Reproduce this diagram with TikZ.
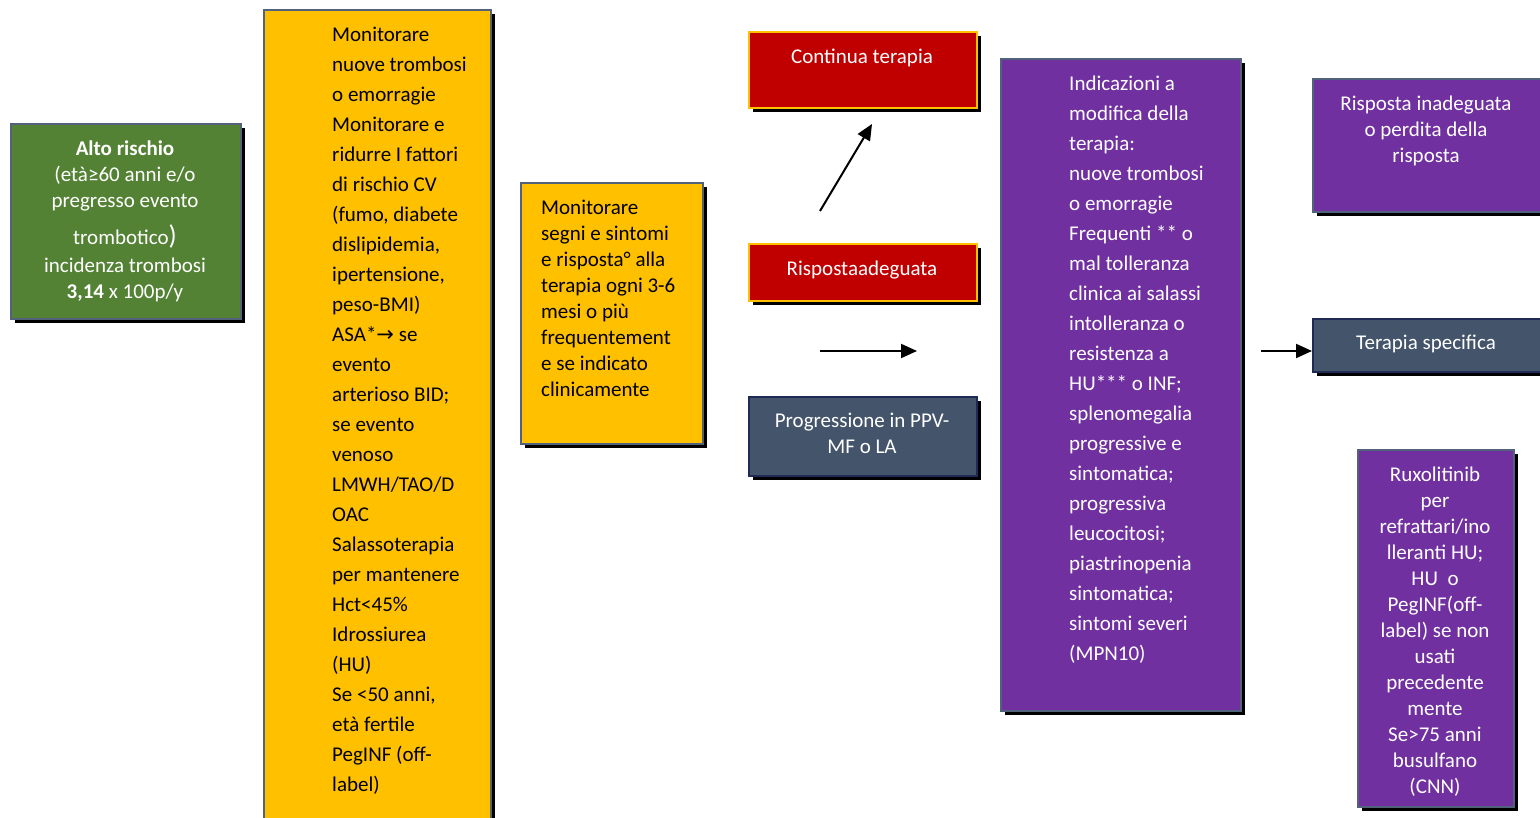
\documentclass[tikz,border=0pt]{standalone}
\usepackage{fontspec}
\setmainfont{Carlito}
\newfontfamily\symfont{DejaVu Sans}
\usetikzlibrary{shadows,arrows.meta}

\definecolor{frame}{HTML}{52627A}
\definecolor{navyframe}{HTML}{1F2A55}
\definecolor{riskgreen}{HTML}{548235}
\definecolor{amber}{HTML}{FFC000}
\definecolor{darkred}{HTML}{C00000}
\definecolor{slate}{HTML}{44546A}
\definecolor{violet}{HTML}{7030A0}

\begin{document}
\begin{tikzpicture}[x=1pt,y=-1pt,
  box/.style={rectangle, draw=frame, line width=2pt, anchor=north west, inner sep=0pt,
    general shadow={fill=black, shadow xshift=4pt, shadow yshift=-4pt}},
  greenbox/.style={box, fill=riskgreen},
  yellowbox/.style={box, fill=amber},
  redbox/.style={box, fill=darkred, draw=amber},
  slatebox/.style={box, fill=slate, draw=navyframe},
  purplebox/.style={box, fill=violet},
  txt/.style={inner sep=0pt, font=\fontsize{21}{26}\selectfont},
  tall/.style={txt, font=\fontsize{21}{30}\selectfont},
  arr/.style={line width=2pt, -{Triangle[length=16pt,width=14pt]}},
]
\useasboundingbox (0,0) rectangle (1540,818);
\fill[white] (0,0) rectangle (1540,818);

% ---- boxes ----
\node[greenbox, minimum width=230pt, minimum height=195pt] (alto) at (10,123) {};
\node[yellowbox, minimum width=227pt, minimum height=830pt] (monit) at (263,9) {};
\node[yellowbox, minimum width=182pt, minimum height=261pt] (segni) at (520,182) {};
\node[redbox, minimum width=228pt, minimum height=76pt] (cont) at (748,31) {};
\node[redbox, minimum width=228pt, minimum height=57pt] (adeg) at (748,243) {};
\node[slatebox, minimum width=228pt, minimum height=79pt] (progr) at (748,396) {};
\node[purplebox, minimum width=240pt, minimum height=652pt] (indic) at (1000,58) {};
\node[purplebox, minimum width=240pt, minimum height=133pt] (inad) at (1312,78) {};
\node[slatebox, minimum width=240pt, minimum height=53pt] (ts) at (1312,318) {};
\node[purplebox, minimum width=156pt, minimum height=357pt] (rux) at (1357,449) {};

% ---- texts ----
\node[txt, text=white, anchor=north, align=center] (alto-t) at (125,137)
  {\rule{0pt}{18pt}\textbf{Alto rischio}\\
   (età≥60 anni e/o\\
   pregresso evento\\[11pt]
   trombotico{\fontsize{27}{27}\selectfont\smash{)}}\\[2pt]
   incidenza trombosi\\
   \textbf{3,14} x 100p/y};

\node[tall, anchor=north west, align=left] (monit-t) at (332,23)
  {\rule{0pt}{18pt}Monitorare\\
   nuove trombosi\\
   o emorragie\\
   Monitorare e\\
   ridurre I fattori\\
   di rischio CV\\
   (fumo, diabete\\
   dislipidemia,\\
   ipertensione,\\
   peso-BMI)\\
   ASA*{\symfont →} se\\
   evento\\
   arterioso BID;\\
   se evento\\
   venoso\\
   LMWH/TAO/D\\
   OAC\\
   Salassoterapia\\
   per mantenere\\
   Hct<45\%\\
   Idrossiurea\\
   (HU)\\
   Se <50 anni,\\
   età fertile\\
   PegINF (off-\\
   label)};

\node[txt, anchor=north west, align=left] (segni-t) at (541,196)
  {\rule{0pt}{18pt}Monitorare\\
   segni e sintomi\\
   e risposta° alla\\
   terapia ogni 3-6\\
   mesi o più\\
   frequentement\\
   e se indicato\\
   clinicamente};

\node[txt, text=white, anchor=base] (cont-t) at (862,64) {Continua terapia};
\node[txt, text=white, anchor=base] (adeg-t) at (862,276) {Rispostaadeguata};
\node[txt, text=white, anchor=north, align=center] (progr-t) at (862,409)
  {\rule{0pt}{18pt}Progressione in PPV-\\MF o LA};

\node[tall, text=white, anchor=north west, align=left] (indic-t) at (1069,72)
  {\rule{0pt}{18pt}Indicazioni a\\
   modifica della\\
   terapia:\\
   nuove trombosi\\
   o emorragie\\
   Frequenti ** o\\
   mal tolleranza\\
   clinica ai salassi\\
   intolleranza o\\
   resistenza a\\
   HU*** o INF;\\
   splenomegalia\\
   progressive e\\
   sintomatica;\\
   progressiva\\
   leucocitosi;\\
   piastrinopenia\\
   sintomatica;\\
   sintomi severi\\
   (MPN10)};

\node[txt, text=white, anchor=north, align=center] (inad-t) at (1426,92)
  {\rule{0pt}{18pt}Risposta inadeguata\\o perdita della\\risposta};
\node[txt, text=white, anchor=base] (ts-t) at (1426,350) {Terapia specifica};

\node[txt, text=white, anchor=north, align=center] (rux-t) at (1435,463)
  {\rule{0pt}{18pt}Ruxolitinib\\
   per\\
   refrattari/ino\\
   lleranti HU;\\
   HU~~o\\
   PegINF(off-\\
   label) se non\\
   usati\\
   precedente\\
   mente\\
   Se>75 anni\\
   busulfano\\
   (CNN)};

% ---- connectors ----
\coordinate (up-from) at (820,211);
\coordinate (up-to) at (872,124);
\coordinate (mid-from) at (820,351);
\coordinate (mid-to) at (917,351);
\coordinate (ts-from) at (1261,351);
\draw[arr] (up-from) -- (up-to);
\draw[arr] (mid-from) -- (mid-to);
\draw[arr] (ts-from) -- (ts-from -| ts.west);
\end{tikzpicture}
\end{document}
